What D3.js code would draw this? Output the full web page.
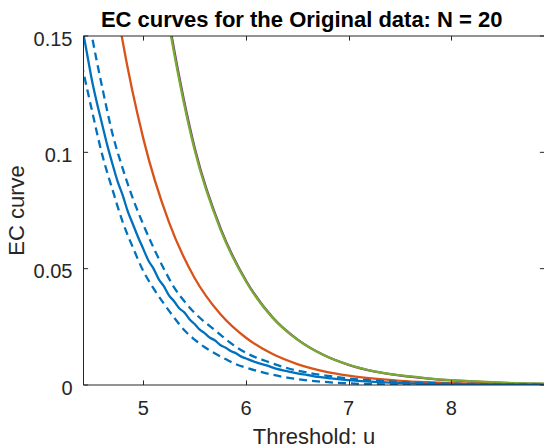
<!DOCTYPE html>
<html><head><meta charset="utf-8">
<script src="https://cdn.jsdelivr.net/npm/d3@7/dist/d3.min.js"></script>
<style>body{margin:0;background:#fff}svg{display:block}text{font-family:"Liberation Sans",Arial,sans-serif}</style>
</head><body><svg id="c" width="544" height="448"></svg>
<script>
const xTicks = [5, 6, 7, 8];
const yTicks = [0, 0.05, 0.1, 0.15];
const yTickLabels = ["0", "0.05", "0.1", "0.15"];
const titleText = "EC curves for the Original data: N = 20";
const xLabel = "Threshold: u";
const yLabel = "EC curve";

// mean EC curve (blue solid)
const meanU = [4.40,4.45,4.50,4.55,4.60,4.65,4.70,4.75,4.80,4.85,4.90,4.95,5.00,5.05,5.10,5.15,5.20,5.25,5.30,5.35,5.40,5.45,5.50,5.55,5.60,5.65,5.70,5.75,5.80,5.85,5.90,5.95,6.00,6.10,6.20,6.30,6.40,6.50,6.60,6.70,6.80,6.90,7.00,7.25,7.50,7.75,8.00,8.50,8.90];
const meanV = [0.155,0.143,0.131,0.121,0.112,0.103,0.095,0.0875,0.0815,0.0745,0.0690,0.0635,0.0585,0.0535,0.0500,0.0455,0.0425,0.0385,0.0360,0.0330,0.0312,0.0283,0.0262,0.0238,0.0222,0.0203,0.0191,0.0172,0.0161,0.0146,0.0137,0.0123,0.0114,0.0097,0.0084,0.0069,0.0060,0.0050,0.0043,0.0035,0.0030,0.0025,0.0021,0.0013,0.0008,0.0005,0.0003,0.0001,0.00005];
// upper / lower bounds (blue dashed)
const upU = [4.40,4.50,4.60,4.70,4.80,4.90,5.00,5.10,5.20,5.30,5.40,5.50,5.60,5.70,5.80,5.90,6.00,6.20,6.40,6.60,6.80,7.00,7.25,7.50,8.00,8.50,8.90];
const upV = [0.176,0.150,0.128,0.108,0.093,0.080,0.069,0.059,0.050,0.042,0.036,0.031,0.027,0.0235,0.0198,0.0165,0.0138,0.0102,0.0073,0.0053,0.0039,0.0028,0.0019,0.0013,0.0006,0.0003,0.00015];
const loU = [4.40,4.50,4.60,4.70,4.80,4.90,5.00,5.10,5.20,5.30,5.40,5.50,5.60,5.70,5.80,5.90,6.00,6.20,6.40,6.60,6.80,7.00,7.50,8.00,8.90];
const loV = [0.138,0.118,0.099,0.084,0.070,0.059,0.049,0.0415,0.035,0.029,0.0235,0.0195,0.0162,0.0135,0.0112,0.0090,0.0075,0.0050,0.0032,0.0020,0.0012,0.0007,0.0002,0.0001,0.00003];
// orange curve
const orU = [4.70,4.79,5.00,5.25,5.50,5.75,6.00,6.25,6.50,6.75,7.00,7.25,7.50,7.75,8.00,8.50,8.90];
const orV = [0.174,0.150,0.106,0.070,0.046,0.0305,0.0203,0.0135,0.0090,0.0060,0.0040,0.0027,0.0018,0.0012,0.0008,0.00035,0.00018];
// green curve (purple curve lies underneath, nearly identical)
const grU = [5.20,5.27,5.50,5.75,6.00,6.25,6.50,6.75,7.00,7.25,7.50,7.75,8.00,8.25,8.50,8.90];
const grV = [0.168,0.150,0.101,0.067,0.0445,0.0293,0.0195,0.0130,0.0087,0.0059,0.0042,0.0030,0.0021,0.0015,0.0010,0.0006];

const L = 83.5, R = 544.5, T = 36, B = 385;
const svg = d3.select("#c");
const x = d3.scaleLinear().domain([4.418, 8.907]).range([L, R]);
const y = d3.scaleLinear().domain([0, 0.15]).range([B, T]);
const axCol = "#262626";
const lw = 2.3;

svg.append("defs").append("clipPath").attr("id","clip")
  .append("rect").attr("x", L).attr("y", T).attr("width", R-L).attr("height", B-T);

const g = svg.append("g").attr("clip-path","url(#clip)");
const line = d3.line().x(d=>x(d[0])).y(d=>y(d[1])).curve(d3.curveMonotoneX);
const zipd = (a,b)=>a.map((u,i)=>[u,b[i]]);

g.append("path").attr("d", line(zipd(grU,grV))).attr("fill","none").attr("stroke","#7E2F8E").attr("stroke-width",lw).attr("transform","translate(0.7,0.3)");
g.append("path").attr("d", line(zipd(grU,grV))).attr("fill","none").attr("stroke","#77AC30").attr("stroke-width",lw);
g.append("path").attr("d", line(zipd(orU,orV))).attr("fill","none").attr("stroke","#D95319").attr("stroke-width",lw);
g.append("path").attr("d", line(zipd(upU,upV))).attr("fill","none").attr("stroke","#0072BD").attr("stroke-width",lw).attr("stroke-dasharray","8,5");
g.append("path").attr("d", line(zipd(loU,loV))).attr("fill","none").attr("stroke","#0072BD").attr("stroke-width",lw).attr("stroke-dasharray","8,5");
g.append("path").attr("d", line(zipd(meanU,meanV))).attr("fill","none").attr("stroke","#0072BD").attr("stroke-width",lw);

// box
const ax = svg.append("g").attr("stroke", axCol).attr("stroke-width",1).attr("fill","none");
ax.append("line").attr("x1",L).attr("x2",R).attr("y1",B).attr("y2",B);
ax.append("line").attr("x1",L).attr("x2",R).attr("y1",T).attr("y2",T);
ax.append("line").attr("x1",L).attr("x2",L).attr("y1",T).attr("y2",B);
ax.append("line").attr("x1",R).attr("x2",R).attr("y1",T).attr("y2",B);
const tl = 4.6;
xTicks.forEach(t=>{
  const px = Math.round(x(t))+0.5;
  ax.append("line").attr("x1",px).attr("x2",px).attr("y1",B).attr("y2",B-tl);
  ax.append("line").attr("x1",px).attr("x2",px).attr("y1",T).attr("y2",T+tl);
  svg.append("text").attr("x",x(t)).attr("y",B+30).attr("text-anchor","middle").attr("font-size",20).attr("fill",axCol).text(t);
});
yTicks.forEach((t,i)=>{
  const py = y(t);
  ax.append("line").attr("x1",L).attr("x2",L+tl).attr("y1",py).attr("y2",py);
  ax.append("line").attr("x1",R).attr("x2",R-tl).attr("y1",py).attr("y2",py);
  svg.append("text").attr("x",L-11).attr("y",py+9.5).attr("text-anchor","end").attr("font-size",20).attr("fill",axCol).text(yTickLabels[i]);
});
svg.append("text").attr("x",(L+R)/2).attr("y",444).attr("text-anchor","middle").attr("font-size",22).attr("fill",axCol).text(xLabel);
svg.append("text").attr("transform",`translate(24,${(T+B)/2}) rotate(-90)`).attr("text-anchor","middle").attr("font-size",22).attr("fill",axCol).text(yLabel);
svg.append("text").attr("x",301.7).attr("y",27).attr("text-anchor","middle").attr("font-size",22).attr("font-weight","bold").attr("fill","#000").text(titleText);
</script></body></html>
